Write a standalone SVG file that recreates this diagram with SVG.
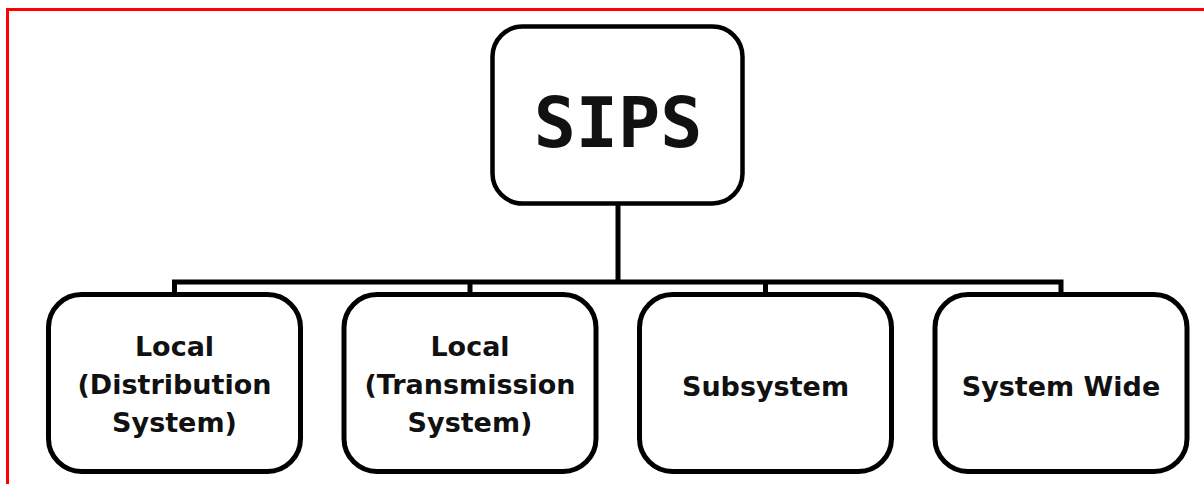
<svg xmlns="http://www.w3.org/2000/svg" width="1204" height="484" viewBox="0 0 1204 484">
  <style>
    .box { fill: #ffffff; stroke: #000000; stroke-width: 5; }
    .root { stroke-width: 4.5; }
    .wire { fill: none; stroke: #000000; stroke-width: 5; stroke-linecap: butt; stroke-linejoin: miter; }
    .label { font-family: "DejaVu Sans", Verdana, sans-serif; font-weight: bold; font-size: 27px; fill: #111111; text-anchor: middle; }
    .title { font-family: "DejaVu Sans Mono", "Liberation Mono", monospace; font-weight: bold; font-size: 70px; fill: #111111; text-anchor: middle; }
  </style>
  <rect x="0" y="0" width="1204" height="484" fill="#ffffff"/>
  <!-- red frame along the top and left edges -->
  <path d="M7.5 484 V9.5 H1204" fill="none" stroke="#ff0000" stroke-width="3"/>

  <g id="connectors">
    <path class="wire" d="M618 204 V282"/>
    <path class="wire" d="M174.5 294 V282 H1061 V294"/>
    <path class="wire" d="M470 282 V294"/>
    <path class="wire" d="M765.5 282 V294"/>
  </g>

  <g id="node-sips">
    <rect class="box root" x="492.5" y="26.5" width="250" height="177" rx="30"/>
    <text class="title" x="618" y="147">SIPS</text>
  </g>

  <g id="node-local-distribution">
    <rect class="box" x="48.5" y="294.5" width="252" height="177" rx="33"/>
    <text class="label" x="174.5" y="356">Local</text>
    <text class="label" x="174.5" y="394">(Distribution</text>
    <text class="label" x="174.5" y="432">System)</text>
  </g>

  <g id="node-local-transmission">
    <rect class="box" x="344" y="294.5" width="252" height="177" rx="33"/>
    <text class="label" x="470" y="356">Local</text>
    <text class="label" x="470" y="394">(Transmission</text>
    <text class="label" x="470" y="432">System)</text>
  </g>

  <g id="node-subsystem">
    <rect class="box" x="639.5" y="294.5" width="252" height="177" rx="33"/>
    <text class="label" x="765.5" y="396">Subsystem</text>
  </g>

  <g id="node-system-wide">
    <rect class="box" x="935" y="294.5" width="252" height="177" rx="33"/>
    <text class="label" x="1061" y="396">System Wide</text>
  </g>
</svg>
